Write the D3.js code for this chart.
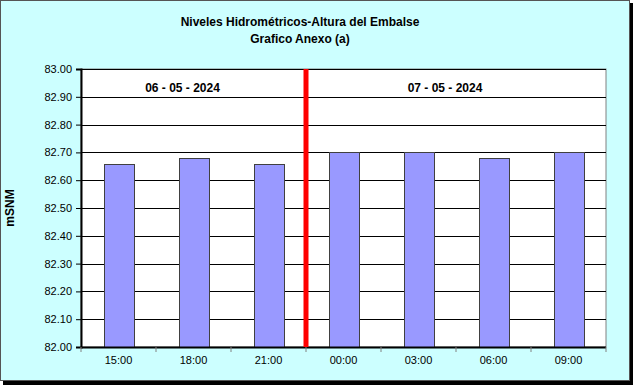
<!DOCTYPE html>
<html>
<head>
<meta charset="utf-8">
<script src="https://cdn.jsdelivr.net/npm/d3@7"></script>
<style>
  body { margin: 0; background: #fff; }
  text { font-family: Arial, "Liberation Sans", sans-serif; }
</style>
</head>
<body>
<script>
const width = 633;
const height = 386;

// data
const horas = ["15:00", "18:00", "21:00", "00:00", "03:00", "06:00", "09:00"];
const niveles = [82.66, 82.68, 82.66, 82.70, 82.70, 82.68, 82.70];
const yTicks = [82.0, 82.1, 82.2, 82.3, 82.4, 82.5, 82.6, 82.7, 82.8, 82.9, 83.0];
const fechas = [
  { label: "06 - 05 - 2024", desde: "15:00", hasta: "21:00" },
  { label: "07 - 05 - 2024", desde: "00:00", hasta: "09:00" }
];
const corte = "00:00"; // red line before this hour

const margin = { top: 69, right: 27, bottom: 39, left: 81 };

const svg = d3.select("body")
  .append("svg")
  .attr("width", width)
  .attr("height", height);

// chart area with shadow
svg.append("rect")
  .attr("x", 3).attr("y", 3)
  .attr("width", width - 3).attr("height", height - 4)
  .attr("fill", "#000");
svg.append("rect")
  .attr("x", 0.5).attr("y", 0.5)
  .attr("width", 629).attr("height", 380)
  .attr("fill", "#ccffff")
  .attr("stroke", "#555")
  .attr("stroke-width", 1);

// titles
svg.append("text")
  .attr("x", 300).attr("y", 26)
  .attr("text-anchor", "middle")
  .attr("font-size", 12).attr("font-weight", "bold")
  .text("Niveles Hidrométricos-Altura del Embalse");
svg.append("text")
  .attr("x", 300).attr("y", 43)
  .attr("text-anchor", "middle")
  .attr("font-size", 12).attr("font-weight", "bold")
  .text("Grafico Anexo (a)");

const x = d3.scaleBand()
  .domain(horas)
  .range([margin.left, width - margin.right])
  .paddingInner(0.6)
  .paddingOuter(0.3);

const y = d3.scaleLinear()
  .domain([82, 83])
  .range([height - margin.bottom, margin.top]);

// plot area
svg.append("rect")
  .attr("x", margin.left).attr("y", margin.top)
  .attr("width", width - margin.left - margin.right)
  .attr("height", height - margin.top - margin.bottom)
  .attr("fill", "#fff")
  .attr("stroke", "#808080");

// gridlines
svg.append("g")
  .selectAll("line")
  .data(yTicks.slice(1))
  .join("line")
  .attr("x1", margin.left).attr("x2", width - margin.right)
  .attr("y1", d => Math.round(y(d)) + 0.5)
  .attr("y2", d => Math.round(y(d)) + 0.5)
  .attr("stroke", "#000");

// bars
svg.append("g")
  .selectAll("rect")
  .data(niveles)
  .join("rect")
  .attr("x", (d, i) => Math.round(x(horas[i])) + 0.5)
  .attr("y", d => Math.round(y(d)) + 0.5)
  .attr("width", Math.round(x.bandwidth()))
  .attr("height", d => Math.round(y(82)) - Math.round(y(d)))
  .attr("fill", "#9999ff")
  .attr("stroke", "#404040");

// y axis
const yAxis = svg.append("g")
  .attr("transform", `translate(${margin.left},0)`)
  .call(d3.axisLeft(y).tickValues(yTicks).tickFormat(d3.format(".2f")).tickSize(5).tickPadding(4));
yAxis.select(".domain").attr("stroke", "#000").attr("stroke-width", 2);
yAxis.selectAll(".tick line").attr("stroke", "#000");
yAxis.selectAll("text").attr("font-size", 11).attr("fill", "#000")
  .attr("font-family", "Arial, 'Liberation Sans', sans-serif");

// x axis: ticks at category boundaries
const bounds = d3.range(horas.length + 1).map(i => margin.left + i * (width - margin.left - margin.right) / horas.length);
const xg = svg.append("g");
xg.append("line")
  .attr("x1", margin.left).attr("x2", width - margin.right)
  .attr("y1", height - margin.bottom + 0.5).attr("y2", height - margin.bottom + 0.5)
  .attr("stroke", "#000").attr("stroke-width", 2);
xg.selectAll(".tk")
  .data(bounds)
  .join("line")
  .attr("class", "tk")
  .attr("x1", d => d).attr("x2", d => d)
  .attr("y1", height - margin.bottom).attr("y2", height - margin.bottom + 5)
  .attr("stroke", "#808080");
xg.selectAll("text")
  .data(horas)
  .join("text")
  .attr("x", d => x(d) + x.bandwidth() / 2)
  .attr("y", height - margin.bottom + 17)
  .attr("text-anchor", "middle")
  .attr("font-size", 11)
  .text(d => d);

// red day separator
const xCorte = x(corte) - (x(corte) - x(horas[horas.indexOf(corte) - 1]) - x.bandwidth()) / 2;
svg.append("line")
  .attr("x1", xCorte).attr("x2", xCorte)
  .attr("y1", margin.top).attr("y2", height - margin.bottom)
  .attr("stroke", "#ff0000")
  .attr("stroke-width", 5);

// date labels
svg.append("g")
  .selectAll("text")
  .data(fechas)
  .join("text")
  .attr("x", d => (x(d.desde) + x(d.hasta) + x.bandwidth()) / 2)
  .attr("dx", -11)
  .attr("y", 92)
  .attr("text-anchor", "middle")
  .attr("font-size", 12).attr("font-weight", "bold")
  .text(d => d.label);

// y label
svg.append("text")
  .attr("transform", "translate(14,208) rotate(-90)")
  .attr("text-anchor", "middle")
  .attr("font-size", 12).attr("font-weight", "bold")
  .text("mSNM");
</script>
</body>
</html>
